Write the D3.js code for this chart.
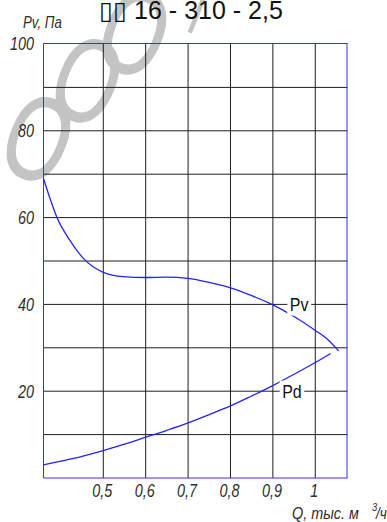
<!DOCTYPE html>
<html>
<head>
<meta charset="utf-8">
<script src="https://cdn.jsdelivr.net/npm/d3@7"></script>
<style>
  html, body { margin: 0; padding: 0; background: #fff; }
  svg { display: block; }
  .gost { font-family: "Liberation Sans", Arial, sans-serif; font-style: italic; fill: #2e2e2e; }
</style>
</head>
<body>
<script>
// Fan characteristic: flow Q (thousand m3/h) vs pressure (Pa)
const titleText = "\u25AF\u25AF 16 - 310 - 2,5";
const watermarkGlyphs = ["О", "О", "О", "Г"];

const qPv = [0.359, 0.374, 0.39, 0.421, 0.453, 0.5, 0.547, 0.6, 0.65, 0.7, 0.752, 0.8, 0.85, 0.9, 0.95, 1.0, 1.026, 1.055];
const pv  = [69.0, 64.5, 60.2, 54.8, 50.6, 47.4, 46.4, 46.2, 46.3, 46.0, 45.0, 43.8, 42.0, 39.9, 37.2, 34.0, 32.2, 29.3];

const qPd = [0.359, 0.4, 0.45, 0.5, 0.55, 0.6, 0.65, 0.7, 0.75, 0.8, 0.85, 0.9, 0.95, 1.0, 1.036];
const pd  = [3.0, 3.9, 5.0, 6.3, 7.8, 9.4, 11.0, 12.7, 14.6, 16.6, 18.9, 21.3, 23.9, 26.6, 28.7];

const xTicks = [0.5, 0.6, 0.7, 0.8, 0.9, 1.0];
const xTickLabels = ["0,5", "0,6", "0,7", "0,8", "0,9", "1"];
const yGrid = [10, 20, 30, 40, 50, 60, 70, 80, 90];
const yTicks = [20, 40, 60, 80, 100];
const yTickLabels = ["20", "40", "60", "80", "100"];

const W = 387, H = 522;
const svg = d3.select("body").append("svg").attr("width", W).attr("height", H);

const x = d3.scaleLinear().domain([0.359, 1.076]).range([43.5, 347.5]);
const y = d3.scaleLinear().domain([0, 100]).range([478, 44]);

// Light watermark letters, drawn under the grid
const wm = svg.append("g").attr("fill", "#c4c4c4").attr("stroke", "#c4c4c4").attr("stroke-width", 1.4)
  .style("font-family", "'Liberation Sans', Arial, sans-serif");
const wmPos = [[39, 137, 120, 0.68], [88, 79, 120, 0.68], [135, 31, 120, 0.68], [204, 12, 66, 0.6]];
wmPos.forEach(([cx, cy, fs, sx], i) => {
  wm.append("text")
    .attr("transform", `translate(${cx},${cy}) rotate(22) scale(${sx},1)`)
    .attr("text-anchor", "middle")
    .attr("dy", "0.36em")
    .attr("font-size", fs)
    .text(watermarkGlyphs[i]);
});

// Grid
const grid = svg.append("g").attr("stroke", "#1e1e1e").attr("stroke-width", 1);
grid.selectAll("line.v").data(xTicks).join("line")
  .attr("x1", d => x(d)).attr("x2", d => x(d))
  .attr("y1", y(0)).attr("y2", y(100));
grid.selectAll("line.h").data(yGrid).join("line")
  .attr("y1", d => y(d)).attr("y2", d => y(d))
  .attr("x1", x.range()[0]).attr("x2", x.range()[1]);

// Frame
const fr = svg.append("g").attr("stroke", "#3030ff").attr("stroke-width", 1);
fr.append("line").attr("x1", 43.5).attr("x2", 347.5).attr("y1", 43.5).attr("y2", 43.5);
fr.append("line").attr("x1", 43.5).attr("x2", 43.5).attr("y1", 43.5).attr("y2", 478);
fr.append("line").attr("x1", 347).attr("x2", 347).attr("y1", 43.5).attr("y2", 478);
fr.append("line").attr("x1", 43.5).attr("x2", 347.5).attr("y1", 478).attr("y2", 478);

// Curves
const line = d3.line().curve(d3.curveMonotoneX).x(d => x(d[0])).y(d => y(d[1]));
svg.append("path").datum(d3.zip(qPv, pv)).attr("d", line)
  .attr("fill", "none").attr("stroke", "#2222ff").attr("stroke-width", 1.3);
svg.append("path").datum(d3.zip(qPd, pd)).attr("d", line)
  .attr("fill", "none").attr("stroke", "#2222ff").attr("stroke-width", 1.3);

// Curve labels on white boxes
function curveLabel(q, v, txt) {
  const g = svg.append("g").attr("transform", `translate(${x(q)},${y(v)}) scale(0.84,1)`);
  const t = g.append("text").text(txt)
    .attr("text-anchor", "middle").attr("dy", "0.36em")
    .style("font-family", "'Liberation Sans', Arial, sans-serif")
    .style("font-size", "19px").attr("fill", "#111");
  const b = t.node().getBBox();
  g.insert("rect", "text").attr("x", b.x - 3).attr("y", b.y).attr("width", b.width + 6).attr("height", b.height)
    .attr("fill", "#fff");
}
curveLabel(0.962, 40, "Pv");
curveLabel(0.945, 20, "Pd");

// Tick labels (narrow italic drafting style)
svg.append("g").selectAll("text").data(yTicks).join("text")
  .attr("class", "gost")
  .attr("transform", d => `translate(34,${y(d)}) scale(0.8,1)`)
  .attr("dy", "0.36em")
  .attr("text-anchor", "end").style("font-size", "18px")
  .text((d, i) => yTickLabels[i]);
svg.append("g").selectAll("text").data(xTicks).join("text")
  .attr("class", "gost")
  .attr("transform", d => `translate(${x(d) - 1},497) scale(0.8,1)`)
  .attr("text-anchor", "middle").style("font-size", "18px")
  .text((d, i) => xTickLabels[i]);

// Axis titles
svg.append("text").attr("class", "gost")
  .attr("transform", "translate(23,28) scale(0.83,1)")
  .style("font-size", "16px").text("Pv, Па");
svg.append("text").attr("class", "gost")
  .attr("transform", "translate(292,519) scale(0.9,1)")
  .style("font-size", "16px").text("Q, тыс. м");
svg.append("text").attr("class", "gost")
  .attr("transform", "translate(372,511) scale(0.85,1)")
  .style("font-size", "11px").text("3");
svg.append("text").attr("class", "gost")
  .attr("transform", "translate(376,519) scale(0.85,1)")
  .style("font-size", "16px").text("/ч");

// Title
svg.append("text").attr("x", 191).attr("y", 19).attr("text-anchor", "middle")
  .style("font-family", "'Liberation Sans', Arial, sans-serif").style("font-size", "25px")
  .attr("fill", "#111").text(titleText);
</script>
</body>
</html>
